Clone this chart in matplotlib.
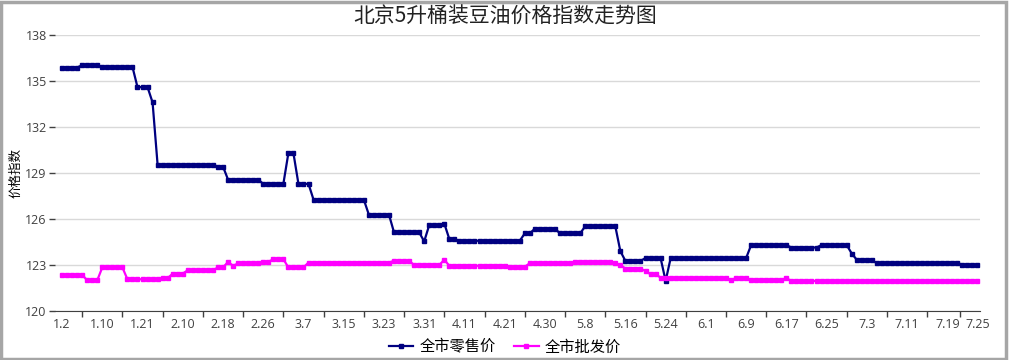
import matplotlib
matplotlib.use('Agg')
import matplotlib.pyplot as plt
from matplotlib.patches import Rectangle

plt.rcParams['font.family'] = ['Noto Sans CJK SC', 'DejaVu Sans']

tick_labels = ['1.2', '1.10', '1.21', '2.10', '2.18', '2.26', '3.7', '3.15', '3.23', '3.31',
               '4.11', '4.21', '4.30', '5.8', '5.16', '5.24', '6.1', '6.9', '6.17', '6.25',
               '7.3', '7.11', '7.19', '7.25']

retail = [
    135.88, 135.88, 135.88, 135.88, 136.03, 136.03, 136.03, 136.03,
    135.92, 135.92, 135.92, 135.92, 135.92, 135.92, 135.92, 134.6,
    134.6, 134.6, 133.6, 129.53, 129.53, 129.53, 129.53, 129.53,
    129.53, 129.53, 129.53, 129.53, 129.53, 129.53, 129.53, 129.42,
    129.42, 128.57, 128.57, 128.57, 128.57, 128.57, 128.57, 128.57,
    128.29, 128.29, 128.29, 128.29, 128.29, 130.3, 130.3, 128.29,
    128.29, 128.29, 127.26, 127.26, 127.26, 127.26, 127.26, 127.26,
    127.26, 127.26, 127.26, 127.26, 127.26, 126.28, 126.28, 126.28,
    126.28, 126.28, 125.13, 125.13, 125.13, 125.13, 125.13, 125.13,
    124.54, 125.6, 125.6, 125.6, 125.7, 124.69, 124.69, 124.58,
    124.58, 124.58, 124.58, 124.58, 124.58, 124.58, 124.58, 124.58,
    124.58, 124.58, 124.58, 124.58, 125.06, 125.06, 125.37, 125.37,
    125.37, 125.37, 125.37, 125.06, 125.06, 125.06, 125.06, 125.06,
    125.52, 125.52, 125.52, 125.52, 125.52, 125.52, 125.52, 123.9,
    123.27, 123.27, 123.27, 123.27, 123.45, 123.45, 123.45, 123.45,
    121.96, 123.45, 123.45, 123.45, 123.45, 123.45, 123.45, 123.45,
    123.45, 123.45, 123.45, 123.45, 123.45, 123.45, 123.45, 123.45,
    123.45, 124.3, 124.3, 124.3, 124.3, 124.3, 124.3, 124.3,
    124.3, 124.14, 124.14, 124.14, 124.14, 124.14, 124.14, 124.3,
    124.3, 124.3, 124.3, 124.3, 124.3, 123.75, 123.34, 123.34,
    123.34, 123.34, 123.1, 123.1, 123.1, 123.1, 123.1, 123.1,
    123.1, 123.1, 123.1, 123.1, 123.1, 123.1, 123.1, 123.15,
    123.15, 123.15, 123.15, 123.0, 123.0, 123.0, 123.0,
]

wholesale = [
    122.36, 122.36, 122.36, 122.36, 122.36, 122.0, 122.0, 122.0,
    122.84, 122.84, 122.84, 122.84, 122.84, 122.07, 122.07, 122.07,
    122.07, 122.07, 122.07, 122.07, 122.14, 122.14, 122.44, 122.44,
    122.44, 122.66, 122.66, 122.66, 122.66, 122.66, 122.66, 122.84,
    122.84, 123.2, 122.95, 123.1, 123.1, 123.1, 123.1, 123.1,
    123.2, 123.2, 123.38, 123.38, 123.38, 122.84, 122.84, 122.84,
    122.84, 123.16, 123.16, 123.16, 123.16, 123.16, 123.16, 123.16,
    123.16, 123.16, 123.16, 123.16, 123.16, 123.16, 123.16, 123.16,
    123.16, 123.16, 123.27, 123.27, 123.27, 123.27, 123.0, 123.0,
    123.0, 123.0, 123.0, 123.0, 123.34, 122.95, 122.95, 122.95,
    122.95, 122.95, 122.95, 122.95, 122.95, 122.95, 122.95, 122.95,
    122.95, 122.88, 122.88, 122.88, 122.88, 123.12, 123.12, 123.12,
    123.12, 123.12, 123.12, 123.12, 123.12, 123.12, 123.2, 123.2,
    123.2, 123.2, 123.2, 123.2, 123.2, 123.2, 123.1, 123.0,
    122.77, 122.77, 122.77, 122.77, 122.6, 122.4, 122.4, 122.18,
    122.14, 122.14, 122.14, 122.14, 122.14, 122.14, 122.14, 122.14,
    122.14, 122.14, 122.14, 122.14, 122.14, 122.03, 122.14, 122.14,
    122.14, 122.03, 122.03, 122.03, 122.03, 122.03, 122.03, 122.03,
    122.14, 121.96, 121.96, 121.96, 121.96, 121.96, 121.96, 121.96,
    121.96, 121.96, 121.96, 121.96, 121.96, 121.96, 121.96, 121.96,
    121.96, 121.96, 121.96, 121.96, 121.96, 121.96, 121.96, 121.96,
    121.96, 121.96, 121.96, 121.96, 121.96, 121.96, 121.96, 121.96,
    121.96, 121.96, 121.96, 121.96, 121.96, 121.96, 121.96,
]

n = len(retail)
x = list(range(n))
# a label every 8 observations, plus the last day
label_pos = list(range(0, 8 * (len(tick_labels) - 1), 8)) + [n - 1]
bound_pos = [p + 4 for p in label_pos[:-2]] + [n - 4.5]

fig = plt.figure(figsize=(10.1, 3.6), dpi=100)
ax = fig.add_axes([55 / 1010, 49 / 360, 925 / 1010, 276 / 360])

ax.plot(x, retail, color='#000080', lw=1.6, marker='s', ms=2.6, label='全市零售价', zorder=3)
ax.plot(x, wholesale, color='#ff00ff', lw=1.6, marker='s', ms=2.6, label='全市批发价', zorder=3)

ax.set_xlim(-1.4, n - 0.5)
ax.set_ylim(120, 138)
ax.set_yticks([120, 123, 126, 129, 132, 135, 138])
ax.grid(axis='y', color='#d9d9d9', lw=1)
ax.set_axisbelow(True)

ax.set_xticks(label_pos)
ax.set_xticklabels(tick_labels, family=['Open Sans', 'DejaVu Sans'], fontsize=9, color='#404040')
ax.set_xticks(bound_pos, minor=True)
ax.tick_params(axis='x', which='major', length=0, pad=5)
ax.tick_params(axis='x', which='minor', length=4, color='#404040', width=1)
ax.tick_params(axis='y', length=4, color='#404040', width=1, pad=2, labelsize=9, labelcolor='#404040')
for lab in ax.get_yticklabels():
    lab.set_family(['Open Sans', 'DejaVu Sans'])

for s in ['top', 'right', 'left']:
    ax.spines[s].set_visible(False)
ax.spines['bottom'].set_color('#404040')

ax.set_ylabel('价格指数', fontsize=9, labelpad=2)
fig.text(0.5, 0.955, '北京5升桶装豆油价格指数走势图', ha='center', va='center', fontsize=15, color='#222222')

fig.legend(loc='center', bbox_to_anchor=(0.5, 1 - 347 / 360), ncol=2, frameon=False,
           fontsize=11, handlelength=1.6, columnspacing=1.2, handletextpad=0.4,
           borderaxespad=0, borderpad=0)

# grey frame around the whole picture
fig.patches.append(Rectangle((0.001, 0.002), 0.995, 0.993, transform=fig.transFigure,
                             fill=False, edgecolor='#a6a6a6', lw=2.5))

fig.savefig('out.png', dpi=100)
